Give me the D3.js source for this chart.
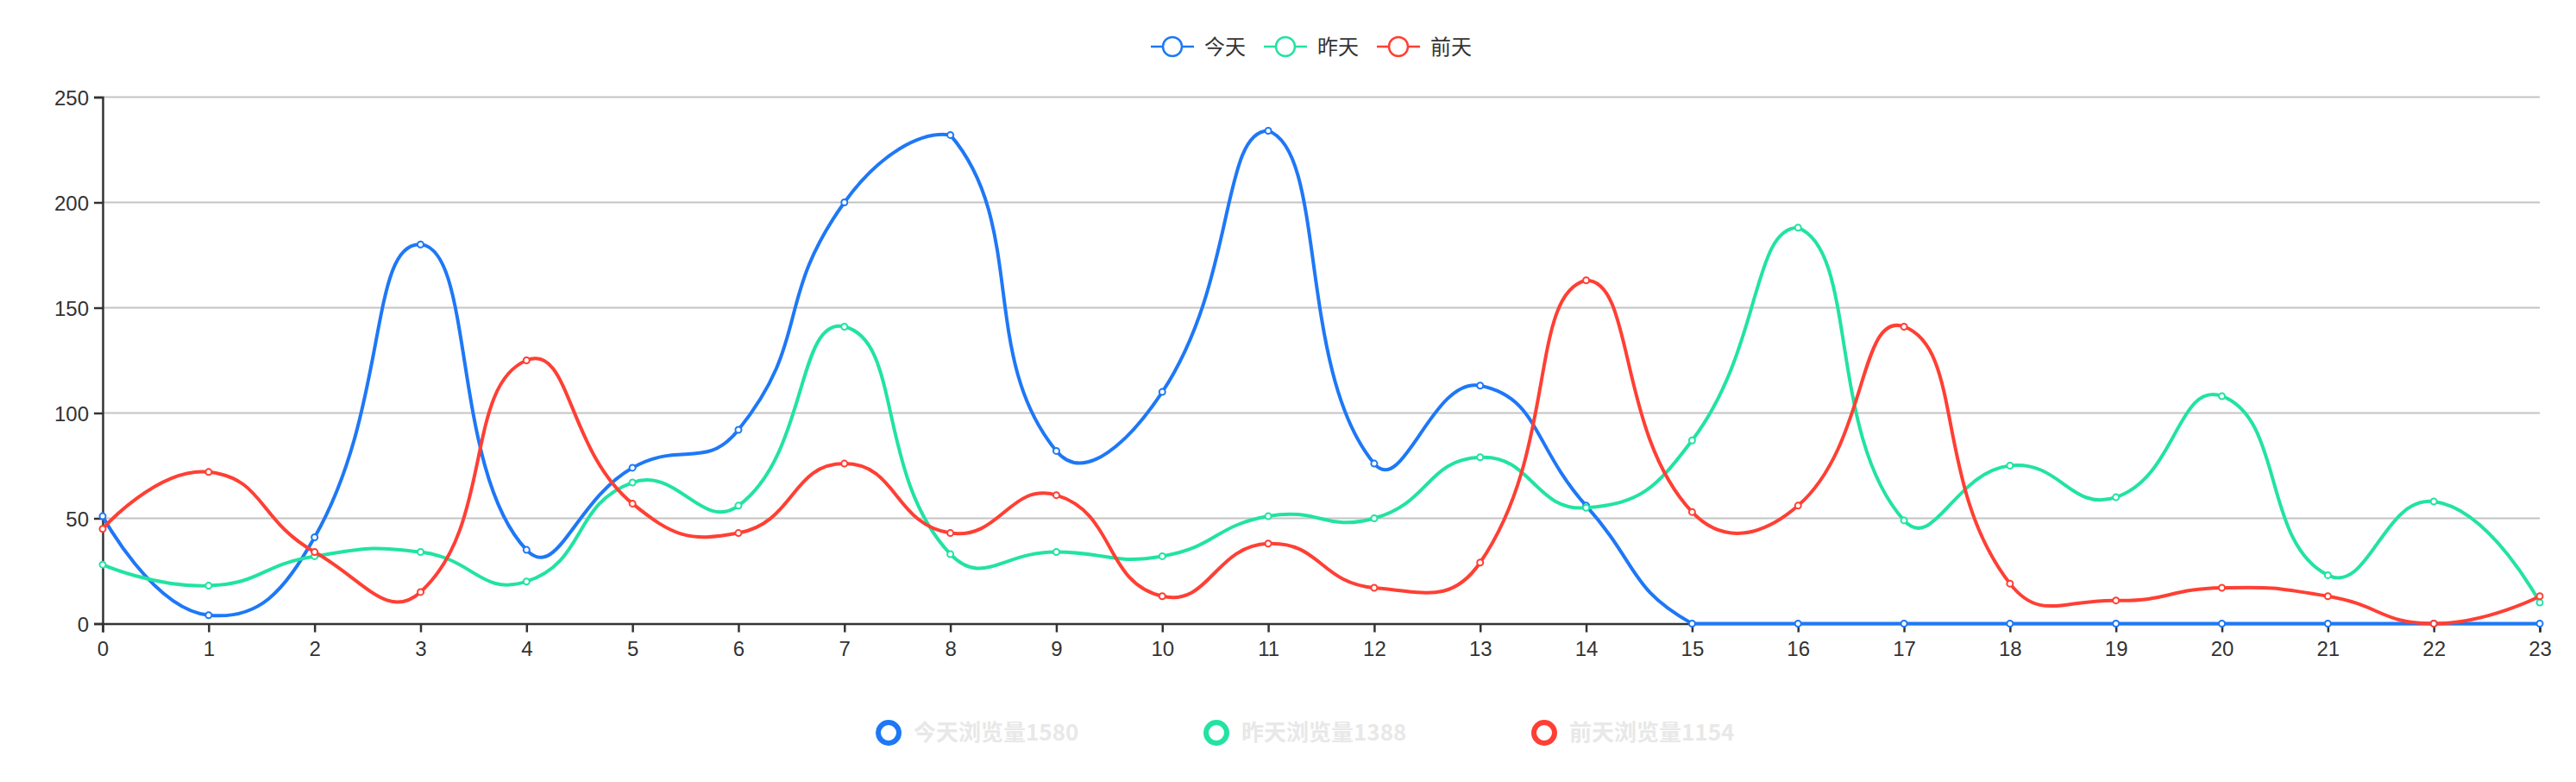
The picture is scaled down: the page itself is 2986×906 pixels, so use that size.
<!DOCTYPE html>
<html><head><meta charset="utf-8">
<script src="https://cdn.jsdelivr.net/npm/d3@7/dist/d3.min.js"></script>
<style>html,body{margin:0;padding:0;background:#fff;} svg{display:block}</style>
</head><body><svg id="chart" width="2986" height="906"></svg>
<script>
// ---- data ----
const hours = ["0","1","2","3","4","5","6","7","8","9","10","11","12","13","14","15","16","17","18","19","20","21","22","23"];
const seriesNames = ["今天", "昨天", "前天"];
const todayValues = [51, 4, 41, 180, 35, 74, 92, 200, 232, 82, 110, 234, 76, 113, 56, 0, 0, 0, 0, 0, 0, 0, 0, 0];
const yesterdayValues = [28, 18, 32, 34, 20, 67, 56, 141, 33, 34, 32, 51, 50, 79, 55, 87, 188, 49, 75, 60, 108, 23, 58, 10];
const dayBeforeValues = [45, 72, 34, 15, 125, 57, 43, 76, 43, 61, 13, 38, 17, 29, 163, 53, 56, 141, 19, 11, 17, 13, 0, 13];
const yTicks = [0, 50, 100, 150, 200, 250];
const totalSuffix = "浏览量";
const colors = ["#1E78F6", "#22E3A1", "#FF3F34"];

const seriesValues = [todayValues, yesterdayValues, dayBeforeValues];

(function draw() {
// ---- layout ----
const plotLeft = 119, plotRight = 2944, plotTop = 112.5, plotBottom = 722.5;
const svg = d3.select("#chart");
const latin = "'Liberation Sans', Arial, Helvetica, sans-serif";
const cjk = "'Noto Sans CJK SC', 'Noto Sans', sans-serif";

const x = d3.scalePoint().domain(hours).range([plotLeft, plotRight]).padding(0);
const y = d3.scaleLinear().domain([0, 250]).range([plotBottom, plotTop]);

// grid lines
svg.append("g").selectAll("line").data(yTicks.filter(t => t > 0)).join("line")
  .attr("x1", plotLeft).attr("x2", plotRight)
  .attr("y1", d => y(d)).attr("y2", d => y(d))
  .attr("stroke", "#c4c4c4").attr("stroke-width", 2);

// y axis
const yAxis = d3.axisLeft(y).tickValues(yTicks).tickSize(10).tickPadding(6);
const gy = svg.append("g").attr("transform", `translate(${plotLeft},0)`).call(yAxis);
gy.select(".domain").attr("stroke", "#333").attr("stroke-width", 2.5);
gy.selectAll(".tick line").attr("stroke", "#333").attr("stroke-width", 2.5);
gy.selectAll(".tick text").attr("font-family", latin).attr("font-size", 24).attr("fill", "#333").attr("dy", "0.36em");

// x axis
const xAxis = d3.axisBottom(x).tickSize(10).tickPadding(10);
const gx = svg.append("g").attr("transform", `translate(0,${plotBottom})`).call(xAxis);
gx.select(".domain").attr("stroke", "#333").attr("stroke-width", 2.5);
gx.selectAll(".tick line").attr("stroke", "#333").attr("stroke-width", 2.5);
gx.selectAll(".tick text").attr("font-family", latin).attr("font-size", 24).attr("fill", "#333").attr("dy", "0.74em");

// ECharts-style smooth curve
function echartsSmooth(smooth) {
  return function(context) {
    let pts;
    return {
      areaStart() {}, areaEnd() {},
      lineStart() { pts = []; },
      point(px, py) { pts.push([+px, +py]); },
      lineEnd() {
        const n = pts.length; if (!n) return;
        const xs = pts.map(p => p[0]), ys = pts.map(p => p[1]);
        const minX = d3.min(xs), maxX = d3.max(xs), minY = d3.min(ys), maxY = d3.max(ys);
        const clamp = p => [Math.min(Math.max(p[0], minX), maxX), Math.min(Math.max(p[1], minY), maxY)];
        context.moveTo(pts[0][0], pts[0][1]);
        let cp0 = pts[0];
        for (let i = 1; i < n; i++) {
          const p = pts[i], prev = pts[i - 1], next = pts[i + 1];
          let cp1, nextCp0;
          if (!next) { cp1 = p; nextCp0 = p; }
          else {
            const vx = next[0] - prev[0], vy = next[1] - prev[1];
            const d0 = Math.hypot(p[0] - prev[0], p[1] - prev[1]);
            const d1 = Math.hypot(next[0] - p[0], next[1] - p[1]);
            const r = d1 / (d0 + d1);
            cp1 = [p[0] - vx * smooth * (1 - r), p[1] - vy * smooth * (1 - r)];
            nextCp0 = [p[0] + vx * smooth * r, p[1] + vy * smooth * r];
          }
          const a = clamp(cp0), b = clamp(cp1);
          context.bezierCurveTo(a[0], a[1], b[0], b[1], p[0], p[1]);
          cp0 = nextCp0;
        }
      }
    };
  };
}

const line = d3.line().x((d, i) => x(hours[i])).y(d => y(d)).curve(echartsSmooth(0.5));

seriesValues.forEach((vals, si) => {
  const g = svg.append("g");
  g.append("path").datum(vals).attr("d", line)
    .attr("fill", "none").attr("stroke", colors[si]).attr("stroke-width", 4)
    .attr("stroke-linejoin", "round");
  g.selectAll("circle").data(vals).join("circle")
    .attr("cx", (d, i) => x(hours[i])).attr("cy", d => y(d))
    .attr("r", 3.5).attr("fill", "#fff").attr("stroke", colors[si]).attr("stroke-width", 2);
});

// top legend
let lx = 1334;
const ly = 54;
seriesNames.forEach((name, si) => {
  const g = svg.append("g");
  g.append("line").attr("x1", lx).attr("x2", lx + 50).attr("y1", ly).attr("y2", ly)
    .attr("stroke", colors[si]).attr("stroke-width", 2.5);
  g.append("circle").attr("cx", lx + 25).attr("cy", ly).attr("r", 11)
    .attr("fill", "#fff").attr("stroke", colors[si]).attr("stroke-width", 2.5);
  const t = g.append("text").attr("x", lx + 62).attr("y", ly).attr("dy", "0.36em")
    .attr("font-family", cjk).attr("font-size", 24).attr("fill", "#333").text(name);
  const tw = t.node().getComputedTextLength();
  lx += 50 + 12 + tw + 21;
});

// bottom totals legend
const by = 849;
seriesNames.forEach((name, si) => {
  const cx = 1030 + si * 380;
  svg.append("circle").attr("cx", cx).attr("cy", by).attr("r", 12)
    .attr("fill", "#fff").attr("stroke", colors[si]).attr("stroke-width", 6);
  svg.append("text").attr("x", cx + 29).attr("y", by).attr("dy", "0.36em")
    .attr("font-family", cjk).attr("font-size", 26).attr("font-weight", "bold")
    .attr("fill", "#e8e8e8").text(name + totalSuffix + d3.sum(seriesValues[si]));
});
})();
</script>
</body></html>
